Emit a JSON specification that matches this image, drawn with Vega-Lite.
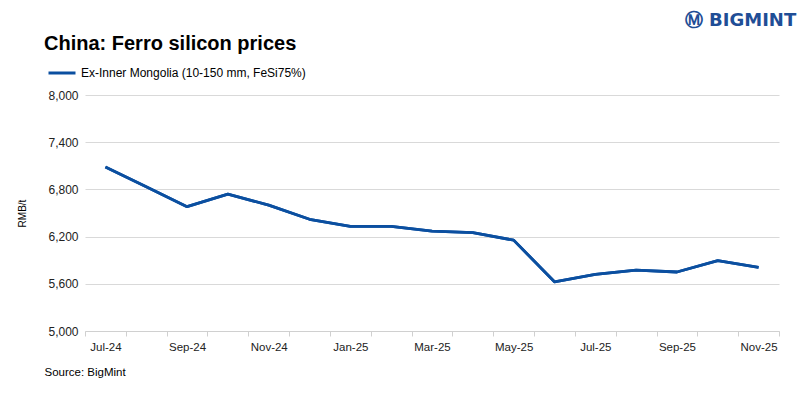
{
  "$schema": "https://vega.github.io/schema/vega-lite/v6.json",
  "width": 694,
  "height": 236,
  "autosize": "none",
  "padding": {"left": 85, "top": 95, "right": 33, "bottom": 68},
  "background": "white",
  "config": {
    "font": "Liberation Sans",
    "view": {"stroke": null}
  },
  "title": {
    "text": "China: Ferro silicon prices",
    "anchor": "start",
    "frame": "group",
    "fontSize": 20,
    "fontWeight": "bold",
    "color": "#000000",
    "font": "Liberation Sans",
    "dx": -41,
    "offset": 0,
    "dy": 43
  },
  "data": {
    "values": [
      {"month": "Jul-24", "price": 7085, "series": "Ex-Inner Mongolia (10-150 mm, FeSi75%)"},
      {"month": "Aug-24", "price": 6835, "series": "Ex-Inner Mongolia (10-150 mm, FeSi75%)"},
      {"month": "Sep-24", "price": 6580, "series": "Ex-Inner Mongolia (10-150 mm, FeSi75%)"},
      {"month": "Oct-24", "price": 6740, "series": "Ex-Inner Mongolia (10-150 mm, FeSi75%)"},
      {"month": "Nov-24", "price": 6600, "series": "Ex-Inner Mongolia (10-150 mm, FeSi75%)"},
      {"month": "Dec-24", "price": 6420, "series": "Ex-Inner Mongolia (10-150 mm, FeSi75%)"},
      {"month": "Jan-25", "price": 6330, "series": "Ex-Inner Mongolia (10-150 mm, FeSi75%)"},
      {"month": "Feb-25", "price": 6330, "series": "Ex-Inner Mongolia (10-150 mm, FeSi75%)"},
      {"month": "Mar-25", "price": 6270, "series": "Ex-Inner Mongolia (10-150 mm, FeSi75%)"},
      {"month": "Apr-25", "price": 6250, "series": "Ex-Inner Mongolia (10-150 mm, FeSi75%)"},
      {"month": "May-25", "price": 6155, "series": "Ex-Inner Mongolia (10-150 mm, FeSi75%)"},
      {"month": "Jun-25", "price": 5625, "series": "Ex-Inner Mongolia (10-150 mm, FeSi75%)"},
      {"month": "Jul-25", "price": 5720, "series": "Ex-Inner Mongolia (10-150 mm, FeSi75%)"},
      {"month": "Aug-25", "price": 5775, "series": "Ex-Inner Mongolia (10-150 mm, FeSi75%)"},
      {"month": "Sep-25", "price": 5750, "series": "Ex-Inner Mongolia (10-150 mm, FeSi75%)"},
      {"month": "Oct-25", "price": 5895, "series": "Ex-Inner Mongolia (10-150 mm, FeSi75%)"},
      {"month": "Nov-25", "price": 5810, "series": "Ex-Inner Mongolia (10-150 mm, FeSi75%)"}
    ]
  },
  "resolve": {"axis": {"x": "independent"}},
  "layer": [
    {
      "mark": {"type": "line", "strokeWidth": 2.8, "strokeJoin": "round"},
      "encoding": {
        "x": {
          "field": "month",
          "type": "ordinal",
          "sort": null,
          "bandPosition": 0.5,
          "scale": {"type": "band", "paddingInner": 0, "paddingOuter": 0},
          "axis": {
            "title": "Source: BigMint",
            "titleAnchor": "start",
            "titleAlign": "left",
            "titleX": -41,
            "titleY": 41,
            "titleBaseline": "middle",
            "titleFontSize": 11.5,
            "titleFontWeight": "normal",
            "titleColor": "#000000",
            "labelAngle": 0,
            "labelFontSize": 11.5,
            "labelColor": "#222222",
            "labelPadding": 5,
            "labelExpr": "round(datum.index*16) % 2 == 0 ? datum.label : ''",
            "tickBand": "extent",
            "tickSize": 5,
            "tickColor": "#d0d0d0",
            "domainColor": "#d0d0d0",
            "grid": false
          }
        },
        "y": {
          "field": "price",
          "type": "quantitative",
          "scale": {"domain": [5000, 8000], "nice": false, "zero": false},
          "axis": {
            "title": "RMB/t",
            "titleFontSize": 10,
            "titleFontWeight": "normal",
            "titleColor": "#000000",
            "titlePadding": 20,
            "values": [5000, 5600, 6200, 6800, 7400, 8000],
            "format": ",.0f",
            "labelFontSize": 12,
            "labelColor": "#222222",
            "labelPadding": 7,
            "domain": false,
            "ticks": false,
            "grid": true,
            "gridColor": "#d9d9d9",
            "gridWidth": 1
          }
        },
        "color": {
          "field": "series",
          "type": "nominal",
          "scale": {"range": ["#0b4fa0"]},
          "legend": {
            "title": null,
            "orient": "none",
            "legendX": -38,
            "legendY": -37,
            "symbolType": "stroke",
            "symbolSize": 729,
            "symbolStrokeWidth": 3,
            "labelFontSize": 12,
            "labelColor": "#000000",
            "labelOffset": 4,
            "labelLimit": 400
          }
        }
      }
    },
    {
      "mark": {"type": "line", "strokeWidth": 2.8, "strokeJoin": "round"},
      "encoding": {
        "x": {
          "field": "month",
          "type": "ordinal",
          "sort": null,
          "bandPosition": 0.5,
          "scale": {"type": "band", "paddingInner": 0, "paddingOuter": 0},
          "axis": {
            "orient": "top",
            "title": "Ⓜ BIGMINT",
            "titleX": 655,
            "titleY": -75,
            "titleAlign": "center",
            "titleBaseline": "middle",
            "titleFontSize": 18,
            "titleFontWeight": "bold",
            "titleFont": "DejaVu Sans",
            "titleColor": "#1f4e96",
            "domain": false,
            "ticks": false,
            "labels": false,
            "grid": false
          }
        },
        "y": {"field": "price", "type": "quantitative"},
        "color": {"field": "series", "type": "nominal"}
      }
    }
  ]
}
